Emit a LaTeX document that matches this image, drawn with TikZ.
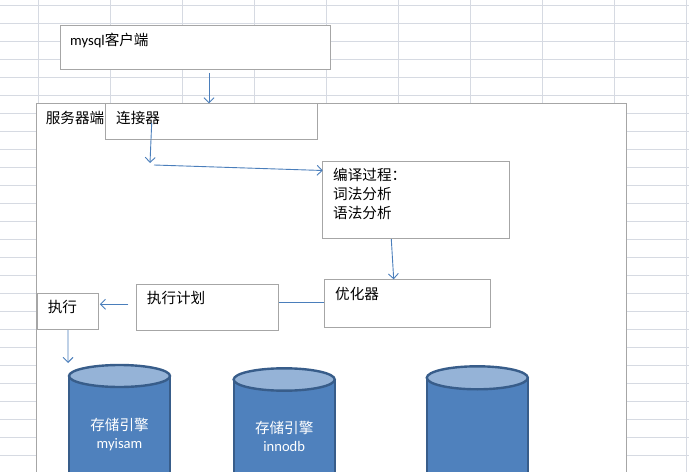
\documentclass[tikz,border=0pt]{standalone}
\usepackage{fontspec}
\setmainfont{Carlito}
\newfontfamily\cjk{Noto Sans CJK SC}
\usetikzlibrary{arrows.meta,calc}
\definecolor{gridc}{RGB}{214,218,226}
\definecolor{boxc}{RGB}{166,166,166}
\definecolor{arrc}{RGB}{74,126,187}
\definecolor{cylbody}{RGB}{79,129,189}
\definecolor{cyltop}{RGB}{149,179,215}
\definecolor{cylline}{RGB}{56,93,138}
\newcommand\dbcyl[4]{% name, cx, cy, ry
  \coordinate (#1) at (#2,#3);
  \fill[cylbody] (#2-50.5,#3) -- (#2-50.5,480) -- (#2+50.5,480) -- (#2+50.5,#3) -- cycle;
  \draw[cylline, line width=2.4bp] (#2-50.5,#3) -- (#2-50.5,480)
        (#2+50.5,#3) -- (#2+50.5,480);
  \filldraw[fill=cyltop, draw=cylline, line width=2.4bp] (#1) ellipse [x radius=50.5, y radius=#4];
}
\begin{document}
\begin{tikzpicture}[x=1bp,y=-1bp,
  box/.style={draw=boxc, fill=white, line width=0.9bp, anchor=north west, inner sep=0pt},
  lbl/.style={anchor=base west, inner sep=0pt, font=\fontsize{14.6bp}{19.2bp}\selectfont},
  cyltxt/.style={anchor=base, inner sep=0pt, text=white, font=\fontsize{14.6bp}{19.2bp}\selectfont},
  arr/.style={draw=arrc, line width=0.9bp, -{Straight Barb[length=5bp,width=10bp]}},
  conn/.style={draw=arrc, line width=0.9bp}]
\useasboundingbox (0,0) rectangle (689,472);
\clip (0,0) rectangle (689,472);
\fill[white] (0,0) rectangle (689,472);
% spreadsheet grid
\foreach \k in {0,...,9} \draw[gridc, line width=0.8bp] (38.5+72*\k,0) -- (38.5+72*\k,472);
\foreach \k in {0,...,26} \draw[gridc, line width=0.8bp] (0,5.3+18*\k) -- (689,5.3+18*\k);
% boxes
\node[box, minimum width=270bp, minimum height=44.3bp] (client) at (60.3,25) {};
\node[box, minimum width=590.3bp, minimum height=380bp] (server) at (35.7,103.3) {};
\node[box, minimum width=212bp, minimum height=35.7bp] (conn) at (105.3,103.3) {};
\node[box, minimum width=186.4bp, minimum height=77bp] (compile) at (322.3,161.3) {};
\node[box, minimum width=165.4bp, minimum height=48bp] (opt) at (324.3,279.3) {};
\node[box, minimum width=141.4bp, minimum height=45.4bp] (plan) at (136.3,284.3) {};
\node[box, minimum width=60.4bp, minimum height=36bp] (exec) at (37.3,293.3) {};
% labels
\node[lbl] (tclient) at (70,45.5) {mysql{\cjk 客户端}};
\node[lbl] (tserver) at (45.7,123.8) {\cjk 服务器端};
\node[lbl] (tconn) at (116,123.8) {\cjk 连接器};
\node[lbl, align=left] (tcompile) at (333,218.9) {\cjk 编译过程：\\\cjk 词法分析\\\cjk 语法分析};
\node[lbl] (topt) at (335,299.5) {\cjk 优化器};
\node[lbl] (tplan) at (146.7,303.8) {\cjk 执行计划};
\node[lbl] (texec) at (47.7,312.8) {\cjk 执行};
% cylinders
\dbcyl{cyla}{119.5}{376}{11}
\dbcyl{cylb}{284.2}{379.5}{11.2}
\dbcyl{cylc}{477.3}{377.8}{11.5}
\node[cyltxt] (ta1) at (119.5,430) {\cjk 存储引擎};
\node[cyltxt] (ta2) at (119.5,448) {myisam};
\node[cyltxt] (tb1) at (284.2,433.5) {\cjk 存储引擎};
\node[cyltxt] (tb2) at (284.2,451) {innodb};
% connectors
\coordinate (jn) at (151,164);
\draw[arr] ($(client.south west)+(148.7,2.7)$) -- ($(conn.north west)+(103.7,0)$);
\draw[arr] ($(conn.north west)+(46.4,19.7)$) -- ($(jn)+(-1,-1)$);
\draw[arr] ($(jn)+(3,1)$) -- ($(compile.north west)+(0.4,9.2)$);
\draw[arr] ($(compile.south west)+(69,0)$) -- ($(opt.north west)+(69.4,0)$);
\draw[conn] ($(opt.north west)+(0,23.4)$) -- ($(plan.north east)+(0,18.4)$);
\draw[arr] ($(plan.north west)+(-8,20)$) -- ($(exec.north east)+(1.3,11)$);
\draw[arr] ($(exec.south west)+(30.7,0)$) -- ($(cyla)+(-51.5,-13)$);
\end{tikzpicture}
\end{document}
